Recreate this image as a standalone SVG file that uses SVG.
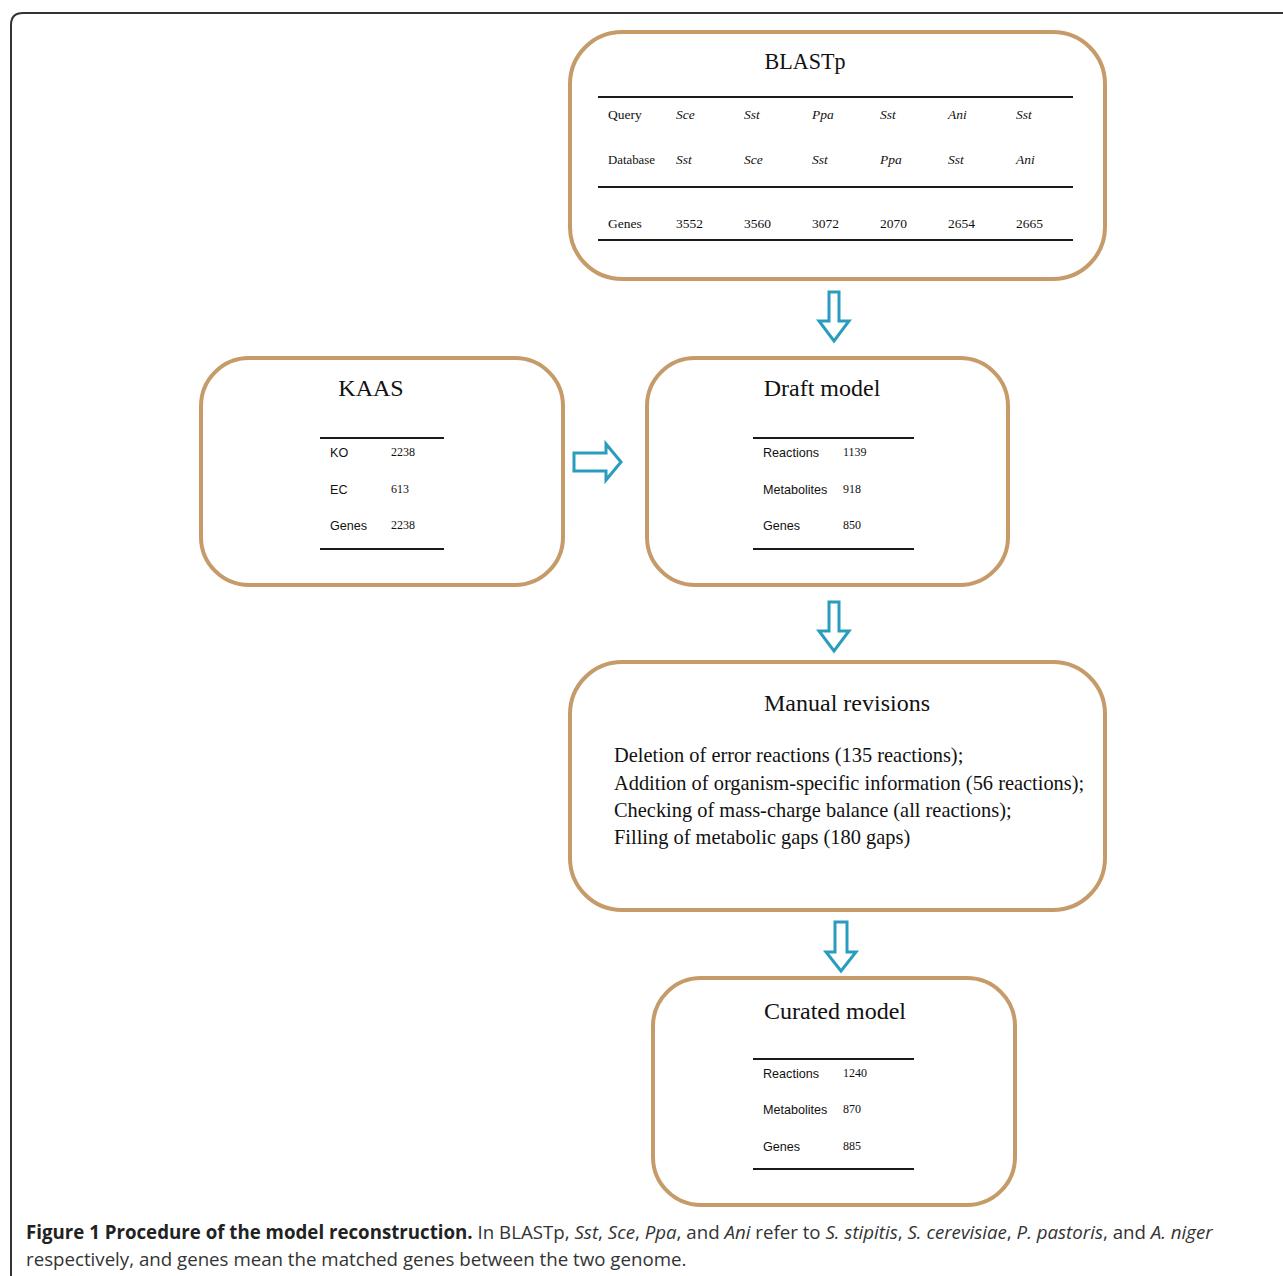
<svg xmlns="http://www.w3.org/2000/svg" width="1283" height="1276" viewBox="0 0 1283 1276">
<style>
.box{fill:#fff;stroke:#C69B6A;stroke-width:4}
.rule{stroke:#1a1a1a;stroke-width:2}
.title{font-family:"Liberation Serif",serif;font-size:24px;fill:#111;text-anchor:middle}
.tm{font-family:"Liberation Serif",serif;font-size:13.5px;fill:#111}
.it{font-style:italic}
.sans{font-family:"Liberation Sans",Arial,sans-serif;font-size:12.6px;fill:#111}
.num{font-family:"Liberation Serif",serif;font-size:12px;fill:#111}
.body{font-family:"Liberation Serif",serif;font-size:20.4px;fill:#111}
.arrow{fill:#fff;stroke:#2A9DBE;stroke-width:3;stroke-linejoin:miter}
.cap{font-family:"Open Sans",sans-serif;font-size:18.7px;fill:#333}
</style>
<rect width="1283" height="1276" fill="#fff"/>
<path d="M11,1276 V25 Q11,13 23,13 H1283" fill="none" stroke="#333" stroke-width="2"/>

<g id="blastp">
<rect class="box" x="570" y="32" width="535" height="247" rx="52" ry="52"/>
<text class="title" x="805" y="69" textLength="81" lengthAdjust="spacingAndGlyphs">BLASTp</text>
<line class="rule" x1="598" y1="97" x2="1073" y2="97"/>
<line class="rule" x1="598" y1="187" x2="1073" y2="187"/>
<line class="rule" x1="598" y1="240" x2="1073" y2="240"/>
<text class="tm" x="608" y="119">Query</text>
<text class="tm it" x="676" y="119">Sce</text>
<text class="tm it" x="744" y="119">Sst</text>
<text class="tm it" x="812" y="119">Ppa</text>
<text class="tm it" x="880" y="119">Sst</text>
<text class="tm it" x="948" y="119">Ani</text>
<text class="tm it" x="1016" y="119">Sst</text>
<text class="tm" x="608" y="164" textLength="47" lengthAdjust="spacingAndGlyphs">Database</text>
<text class="tm it" x="676" y="164">Sst</text>
<text class="tm it" x="744" y="164">Sce</text>
<text class="tm it" x="812" y="164">Sst</text>
<text class="tm it" x="880" y="164">Ppa</text>
<text class="tm it" x="948" y="164">Sst</text>
<text class="tm it" x="1016" y="164">Ani</text>
<text class="tm" x="608" y="228">Genes</text>
<text class="tm" x="676" y="228">3552</text>
<text class="tm" x="744" y="228">3560</text>
<text class="tm" x="812" y="228">3072</text>
<text class="tm" x="880" y="228">2070</text>
<text class="tm" x="948" y="228">2654</text>
<text class="tm" x="1016" y="228">2665</text>
</g>

<g id="kaas">
<rect class="box" x="201" y="358" width="362" height="227" rx="48" ry="48"/>
<text class="title" x="371" y="396">KAAS</text>
<line class="rule" x1="320" y1="438" x2="444" y2="438"/>
<line class="rule" x1="320" y1="549" x2="444" y2="549"/>
<text class="sans" x="330" y="457">KO</text>
<text class="num" x="391" y="456">2238</text>
<text class="sans" x="330" y="494">EC</text>
<text class="num" x="391" y="493">613</text>
<text class="sans" x="330" y="530">Genes</text>
<text class="num" x="391" y="529">2238</text>
</g>

<g id="draft">
<rect class="box" x="647" y="358" width="361" height="227" rx="48" ry="48"/>
<text class="title" x="822" y="396">Draft model</text>
<line class="rule" x1="753" y1="438" x2="914" y2="438"/>
<line class="rule" x1="753" y1="549" x2="914" y2="549"/>
<text class="sans" x="763" y="457">Reactions</text>
<text class="num" x="843" y="456">1139</text>
<text class="sans" x="763" y="494">Metabolites</text>
<text class="num" x="843" y="493">918</text>
<text class="sans" x="763" y="530">Genes</text>
<text class="num" x="843" y="529">850</text>
</g>

<g id="manual">
<rect class="box" x="570" y="662" width="535" height="248" rx="52" ry="52"/>
<text class="title" x="847" y="711">Manual revisions</text>
<text class="body" x="614" y="762">Deletion of error reactions (135 reactions);</text>
<text class="body" x="614" y="790">Addition of organism-specific information (56 reactions);</text>
<text class="body" x="614" y="817">Checking of mass-charge balance (all reactions);</text>
<text class="body" x="614" y="844">Filling of metabolic gaps (180 gaps)</text>
</g>

<g id="curated">
<rect class="box" x="653" y="978" width="362" height="227" rx="48" ry="48"/>
<text class="title" x="835" y="1019">Curated model</text>
<line class="rule" x1="753" y1="1059" x2="914" y2="1059"/>
<line class="rule" x1="753" y1="1169" x2="914" y2="1169"/>
<text class="sans" x="763" y="1078">Reactions</text>
<text class="num" x="843" y="1077">1240</text>
<text class="sans" x="763" y="1114">Metabolites</text>
<text class="num" x="843" y="1113">870</text>
<text class="sans" x="763" y="1151">Genes</text>
<text class="num" x="843" y="1150">885</text>
</g>

<g id="connectors">
<path class="arrow" d="M829,292 H839 V321 H849 L834,341 L819,321 H829 Z"/>
<path class="arrow" d="M829,602 H839 V631 H849 L834,651 L819,631 H829 Z"/>
<path class="arrow" d="M835,922 H847 V952 H856 L841,971 L826,952 H835 Z"/>
<path class="arrow" d="M574,453 H606 V444 L621,462 L606,480 V471 H574 Z"/>
</g>

<g id="caption">
<text class="cap" x="26" y="1239"><tspan font-weight="bold" fill="#222">Figure 1 Procedure of the model reconstruction.</tspan> In BLASTp, <tspan font-style="italic">Sst</tspan>, <tspan font-style="italic">Sce</tspan>, <tspan font-style="italic">Ppa</tspan>, and <tspan font-style="italic">Ani</tspan> refer to <tspan font-style="italic">S. stipitis</tspan>, <tspan font-style="italic">S. cerevisiae</tspan>, <tspan font-style="italic">P. pastoris</tspan>, and <tspan font-style="italic">A. niger</tspan></text>
<text class="cap" x="26" y="1266">respectively, and genes mean the matched genes between the two genome.</text>
</g>
</svg>
